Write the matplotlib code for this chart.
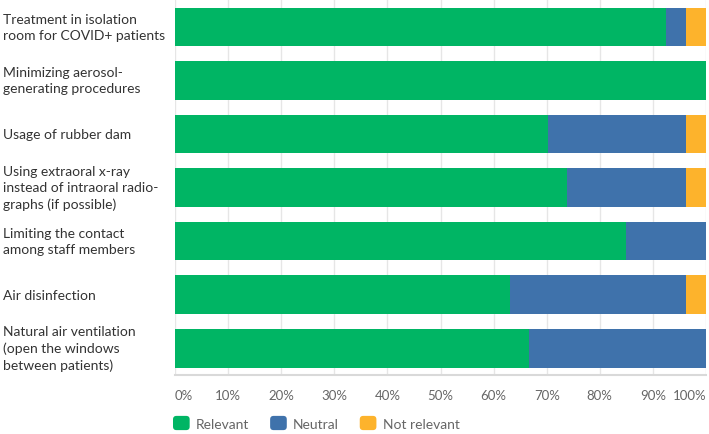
import matplotlib
matplotlib.use("Agg")
import matplotlib.pyplot as plt
from matplotlib.patches import Patch, FancyBboxPatch
from matplotlib.legend_handler import HandlerPatch
from matplotlib.transforms import blended_transform_factory
import numpy as np

# Data (percent of respondents)
categories = [
    "Treatment in isolation\nroom for COVID+ patients",
    "Minimizing aerosol-\ngenerating procedures",
    "Usage of rubber dam",
    "Using extraoral x-ray\ninstead of intraoral radio-\ngraphs (if possible)",
    "Limiting the contact\namong staff members",
    "Air disinfection",
    "Natural air ventilation\n(open the windows\nbetween patients)",
]
relevant = [92.4, 100.0, 70.2, 73.9, 85.0, 63.0, 66.6]
neutral = [3.8, 0.0, 26.0, 22.3, 15.0, 33.2, 33.4]
not_relevant = [3.8, 0.0, 3.8, 3.8, 0.0, 3.8, 0.0]
series_names = ["Relevant", "Neutral", "Not relevant"]
colors = ["#00B564", "#3F72AB", "#FDB32C"]
xticks = [0, 10, 20, 30, 40, 50, 60, 70, 80, 90, 100]


class RoundedSquare(HandlerPatch):
    def create_artists(self, legend, orig_handle, xdescent, ydescent,
                       width, height, fontsize, trans):
        p = FancyBboxPatch((-xdescent, -ydescent), width, height,
                           boxstyle="round,pad=0,rounding_size=2.5",
                           facecolor=orig_handle.get_facecolor(),
                           edgecolor="none", transform=trans)
        return [p]


plt.rcParams["font.family"] = ["Lato", "DejaVu Sans"]

fig = plt.figure(figsize=(7.09, 4.35), dpi=100)
ax = fig.add_axes([175 / 709, 1 - 376 / 435, 531 / 709, 375 / 435])

y = np.arange(len(categories))
left = np.zeros(len(categories))
for vals, name, c in zip([relevant, neutral, not_relevant], series_names, colors):
    ax.barh(y, vals, left=left, height=0.72, color=c, label=name, zorder=2)
    left += np.array(vals)

ax.set_xlim(0, 100)
ax.set_ylim(len(categories) - 0.5, -0.5)
ax.set_yticks([])
ax.set_xticks(xticks)
ax.set_xticklabels([f"{t}%" for t in xticks], fontsize=9.5, color="#666666")
for i, lab in enumerate(ax.get_xticklabels()):
    if i == 0:
        lab.set_ha("left")
    elif i == len(xticks) - 1:
        lab.set_ha("right")
ax.tick_params(axis="x", length=0, pad=10)
ax.grid(axis="x", color="#e6e6e6", linewidth=1, zorder=0)
for s in ["top", "right", "left"]:
    ax.spines[s].set_visible(False)
ax.spines["bottom"].set_color("#d9d9d9")
ax.spines["bottom"].set_linewidth(1.5)

# category labels on the left
trans = blended_transform_factory(fig.transFigure, ax.transData)
for yi, cat in zip(y, categories):
    ax.text(3 / 709, yi, cat, transform=trans, ha="left", va="center",
            fontsize=10, color="#333333", linespacing=1.4)

handles = [Patch(facecolor=c, edgecolor=c, label=n) for c, n in zip(colors, series_names)]
fig.legend(handles=handles, loc="center left", bbox_to_anchor=(173 / 709, 11 / 435), ncol=3,
           frameon=False, fontsize=10, handlelength=1.2, handleheight=1.2,
           handletextpad=0.45, columnspacing=1.5, labelcolor="#666666",
           borderpad=0, borderaxespad=0,
           handler_map={Patch: RoundedSquare()})

fig.savefig("out.png", dpi=100)
